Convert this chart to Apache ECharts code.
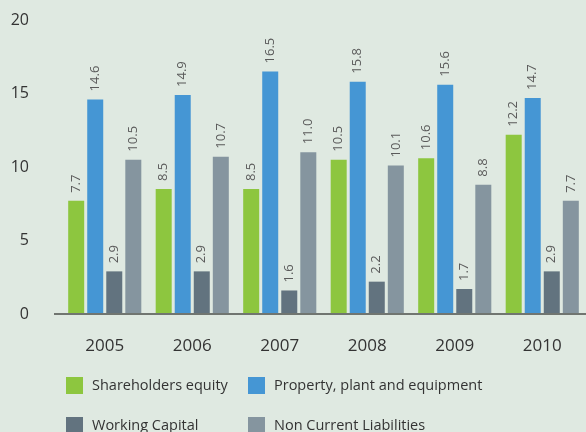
<!DOCTYPE html>
<html>
<head>
<meta charset="utf-8">
<script src="https://cdn.jsdelivr.net/npm/echarts@6/dist/echarts.min.js"></script>
<style>
html,body{margin:0;padding:0;background:#dfe9e1;}
#c{width:586px;height:432px;}
</style>
</head>
<body>
<div id="c"></div>
<script>
const years = ['2005','2006','2007','2008','2009','2010'];
const shareholdersEquity = [7.7, 8.5, 8.5, 10.5, 10.6, 12.2];
const propertyPlant = [14.6, 14.9, 16.5, 15.8, 15.6, 14.7];
const workingCapital = [2.9, 2.9, 1.6, 2.2, 1.7, 2.9];
const nonCurrentLiabilities = [10.5, 10.7, 11.0, 10.1, 8.8, 7.7];
const seriesNames = ['Shareholders equity','Property, plant and equipment','Working Capital','Non Current Liabilities'];
const colors = ['#8dc63f','#4596d4','#62737f','#85959f'];
const seriesData = [shareholdersEquity, propertyPlant, workingCapital, nonCurrentLiabilities];

const FONT = "'Open Sans', 'Noto Sans', sans-serif";
const chart = echarts.init(document.getElementById('c'), null, {renderer:'canvas'});

const series = seriesData.map((d, i) => ({
  name: seriesNames[i],
  type: 'bar',
  data: d,
  barWidth: 16,
  barGap: '19%',
  itemStyle: {color: colors[i]},
  label: {
    show: true,
    position: 'top',
    rotate: 90,
    align: 'left',
    verticalAlign: 'middle',
    distance: 8,
    fontFamily: FONT,
    fontSize: 13,
    color: '#5a5a5a',
    formatter: p => p.value.toFixed(1)
  }
}));

const legendPos = [[66, 377], [248, 377], [66, 417], [248, 417]];
const legends = seriesNames.map((n, i) => ({
  left: legendPos[i][0],
  top: legendPos[i][1],
  padding: 0,
  itemWidth: 17,
  itemHeight: 17,
  icon: 'rect',
  textStyle: {fontFamily: FONT, fontSize: 14.5, color: '#333', padding: [0,0,0,4]},
  data: [n]
}));

chart.setOption({
  backgroundColor: '#dfe9e1',
  animation: false,
  color: colors,
  grid: {left: 61, right: -6, top: 20, bottom: 118},
  legend: legends,
  xAxis: {
    type: 'category',
    data: years,
    axisLine: {show: false},
    axisTick: {show: false},
    axisLabel: {fontFamily: FONT, fontSize: 17, color: '#333', margin: 24}
  },
  yAxis: {
    type: 'value',
    min: 0,
    max: 20,
    interval: 5,
    splitLine: {show: false},
    axisLine: {show: false},
    axisTick: {show: false},
    axisLabel: {fontFamily: FONT, fontSize: 16, color: '#333', margin: 32}
  },
  series: series
});

const y0 = chart.convertToPixel({yAxisIndex: 0}, 0);
chart.setOption({
  graphic: [{
    type: 'line',
    shape: {x1: 54, y1: y0, x2: 586, y2: y0},
    style: {stroke: '#707570', lineWidth: 2},
    z: 10
  }]
});
</script>
</body>
</html>
